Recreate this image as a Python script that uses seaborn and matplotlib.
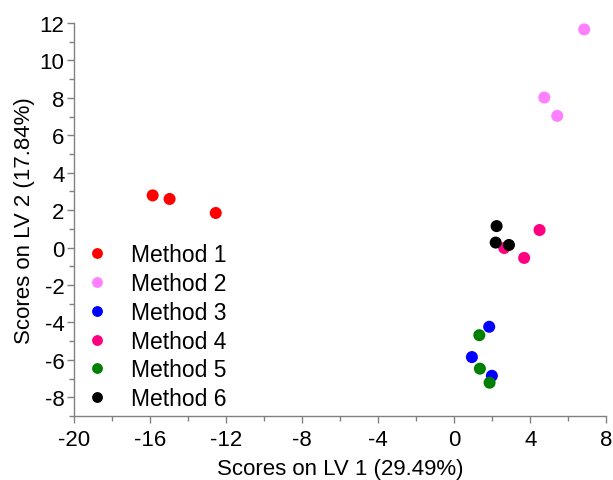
"""
PLS-DA score plot - LV1 vs LV2 for six methods
"""

import pandas as pd
import matplotlib.pyplot as plt
import seaborn as sns
from matplotlib.ticker import MultipleLocator

# Scores
method_1_x = [-15.87, -14.98, -12.55]
method_1_y = [2.79, 2.60, 1.85]
method_2_x = [6.84, 4.74, 5.42]
method_2_y = [11.66, 8.02, 7.04]
method_3_x = [1.84, 0.93, 1.98]
method_3_y = [-4.23, -5.85, -6.85]
method_4_x = [4.49, 2.63, 3.68]
method_4_y = [0.94, -0.02, -0.55]
method_5_x = [1.32, 1.35, 1.86]
method_5_y = [-4.68, -6.47, -7.22]
method_6_x = [2.23, 2.18, 2.88]
method_6_y = [1.15, 0.27, 0.14]

methods = ["Method 1", "Method 2", "Method 3", "Method 4", "Method 5", "Method 6"]
colors = ["#FF0000", "#FF80FF", "#0000FF", "#FF0080", "#008000", "#000000"]

xs = [method_1_x, method_2_x, method_3_x, method_4_x, method_5_x, method_6_x]
ys = [method_1_y, method_2_y, method_3_y, method_4_y, method_5_y, method_6_y]

df = pd.concat(
    [pd.DataFrame({"lv1": x, "lv2": y, "method": m}) for x, y, m in zip(xs, ys, methods)],
    ignore_index=True,
)

sns.set_style("ticks")
plt.rcParams['font.family'] = ['Liberation Sans', 'DejaVu Sans']
plt.rcParams['axes.unicode_minus'] = False
plt.rcParams['text.color'] = 'black'
plt.rcParams['axes.labelcolor'] = 'black'

fig = plt.figure(figsize=(6.13, 4.81), dpi=100)
ax = fig.add_axes([0.121, 0.133, 0.868, 0.817])

sns.scatterplot(data=df, x="lv1", y="lv2", hue="method", hue_order=methods,
                palette=colors, s=75, edgecolor="none", ax=ax, zorder=3)

ax.set_xlim(-20, 8)
ax.set_ylim(-9, 12)
ax.xaxis.set_major_locator(MultipleLocator(4))
ax.xaxis.set_minor_locator(MultipleLocator(2))
ax.yaxis.set_major_locator(MultipleLocator(2))
ax.yaxis.set_minor_locator(MultipleLocator(1))

ax.set_xlabel("Scores on LV 1 (29.49%)", fontsize=16, labelpad=6, color='black')
ax.set_ylabel("Scores on LV 2 (17.84%)", fontsize=16, labelpad=3, color='black')
ax.tick_params(axis='x', which='major', pad=4)
ax.tick_params(axis='y', which='major', pad=2)
ax.tick_params(axis='both', which='major', labelsize=16, length=5, width=1,
               color='#808080', labelcolor='black')
ax.tick_params(axis='both', which='minor', length=3.5, width=1, color='#808080')

for side in ['top', 'right']:
    ax.spines[side].set_visible(False)
for side in ['left', 'bottom']:
    ax.spines[side].set_color('#808080')
    ax.spines[side].set_linewidth(1)

leg = ax.legend(loc='lower left', bbox_to_anchor=(0.0, 0.015), frameon=False,
                fontsize=16.5, markerscale=0.9, handletextpad=0.5,
                labelspacing=0.25, borderpad=0, borderaxespad=0)
for t in leg.get_texts():
    t.set_color('black')

fig.savefig("out.png", dpi=100)
plt.close(fig)
